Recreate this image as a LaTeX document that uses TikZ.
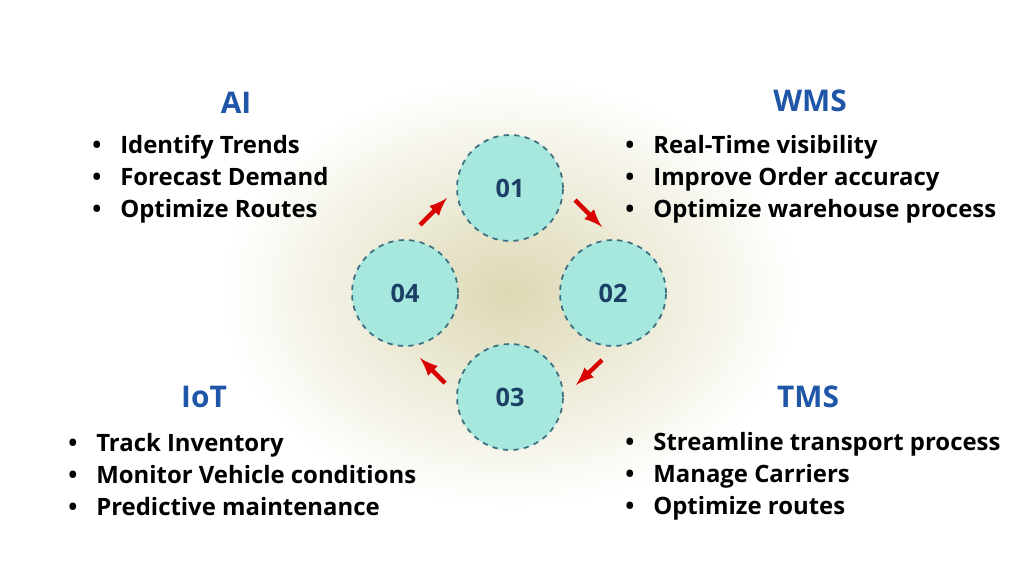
\documentclass[tikz,border=0pt]{standalone}
\usepackage{fontspec}
\setmainfont{Open Sans}
\usetikzlibrary{positioning}
\newcommand{\ringrad}{1.06cm}
\newcommand{\itm}[1]{\makebox[0.56cm][l]{\textbullet}#1}
\definecolor{headblue}{HTML}{1F56A8}
\definecolor{ringfill}{HTML}{A6E8DE}
\definecolor{ringline}{HTML}{3D6F80}
\definecolor{numblue}{HTML}{1C3F66}
\definecolor{glow}{HTML}{DDD8B4}
\tikzstyle{head}=[text=headblue,font=\fontsize{17}{20}\selectfont\bfseries,draw=none]
\tikzstyle{list}=[text=black,font=\fontsize{13.6}{18.2}\selectfont\bfseries,align=left,anchor=north west,inner sep=0pt]
\tikzstyle{ring}=[circle,fill=ringfill,draw=ringline,dashed,line width=1pt,
                  minimum size=2*\ringrad,text=numblue,font=\bfseries\Large]
\tikzstyle{flow}=[->,>=latex,red!85!black,line width=2.5pt]

\begin{document}
\begin{tikzpicture}[x=0.02cm,y=-0.02cm]
\useasboundingbox (0,0) rectangle (1024,585);
\fill[white] (0,0) rectangle (1024,585);
\shade[inner color=glow,outer color=white] (510,293) ellipse [x radius=290,y radius=215];

\node [ring] (r1) at (510,188) {01};
\node [ring] (r2) at (613,293) {02};
\node [ring] (r3) at (510,397) {03};
\node [ring] (r4) at (405,293) {04};

\draw [flow] (r4) ++(15,-68) -- ++(27,-27);
\draw [flow] (r1) ++(65,12) -- ++(27,27);
\draw [flow] (r2) ++(-11,67) -- ++(-26,25);
\draw [flow] (r3) ++(-65,-14) -- ++(-25,-25);

\node [head] (ai) at (236,103) {AI};
\node [list] (ailist) at (92,135) {\itm{Identify Trends}\\ \itm{Forecast Demand}\\ \itm{Optimize Routes}};

\node [head] (wms) at (810,101) {WMS};
\node [list] (wmslist) at (625,135) {\itm{Real-Time visibility}\\ \itm{Improve Order accuracy}\\ \itm{Optimize warehouse process}};

\node [head] (iot) at (204,397) {IoT};
\node [list] (iotlist) at (68,433) {\itm{Track Inventory}\\ \itm{Monitor Vehicle conditions}\\ \itm{Predictive maintenance}};

\node [head] (tms) at (808,397) {TMS};
\node [list] (tmslist) at (625,432) {\itm{Streamline transport process}\\ \itm{Manage Carriers}\\ \itm{Optimize routes}};
\end{tikzpicture}
\end{document}
